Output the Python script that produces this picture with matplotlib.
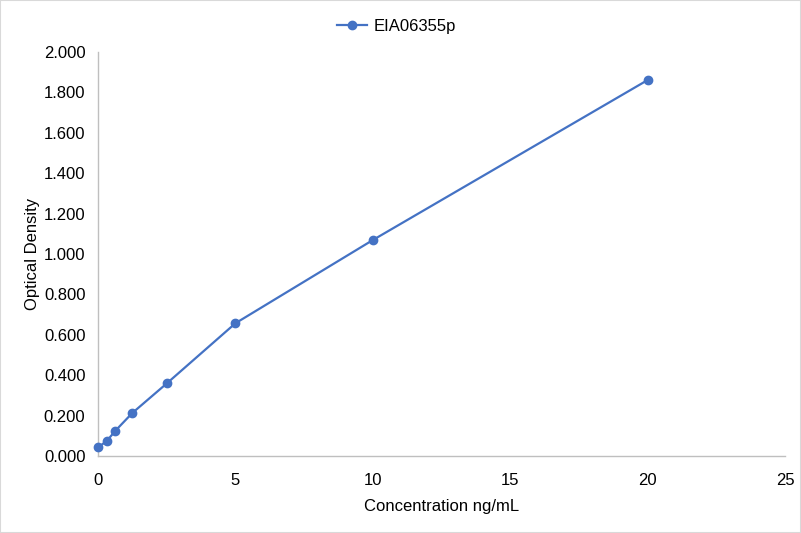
import numpy as np
import matplotlib
matplotlib.use("Agg")
from matplotlib import pyplot as plt
from matplotlib.ticker import FormatStrFormatter

concentration = [0, 0.3125, 0.625, 1.25, 2.5, 5, 10, 20]
optical_density = [0.043, 0.073, 0.124, 0.213, 0.359, 0.657, 1.069, 1.861]
series_name = "EIA06355p"

plt.rcParams['font.family'] = ['Liberation Sans', 'DejaVu Sans']

fig = plt.figure(figsize=(8.01, 5.33), dpi=100)
ax = fig.add_axes([98 / 801, 1 - 456 / 533, (785 - 98) / 801, (456 - 52) / 533])

ax.plot(concentration, optical_density, color='#4472C4', linewidth=1.6,
        marker='o', markersize=6, label=series_name, clip_on=False, zorder=3)

ax.set_xlim(0, 25)
ax.set_ylim(0, 2.0)
ax.set_xticks(np.arange(0, 26, 5))
ax.set_yticks(np.arange(0, 2.01, 0.2))
ax.yaxis.set_major_formatter(FormatStrFormatter('%.3f'))

for side in ['top', 'right']:
    ax.spines[side].set_visible(False)
for side in ['left', 'bottom']:
    ax.spines[side].set_color('#BFBFBF')
    ax.spines[side].set_linewidth(1.0)
ax.tick_params(axis='both', length=0, labelsize=12, colors='#000000')
ax.tick_params(axis='x', pad=12)
ax.tick_params(axis='y', pad=9)

ax.set_xlabel('Concentration ng/mL', fontsize=12, labelpad=8)
ax.set_ylabel('Optical Density', fontsize=12, labelpad=3)

fig.legend(loc='upper center', bbox_to_anchor=(0.495, 0.993), frameon=False,
           fontsize=12, handlelength=1.8, handletextpad=0.4)

fig.patches.append(plt.Rectangle((0, 0), 1, 1, transform=fig.transFigure,
                                 fill=False, edgecolor='#D9D9D9', linewidth=1.5))

fig.savefig('out.png', dpi=100)
